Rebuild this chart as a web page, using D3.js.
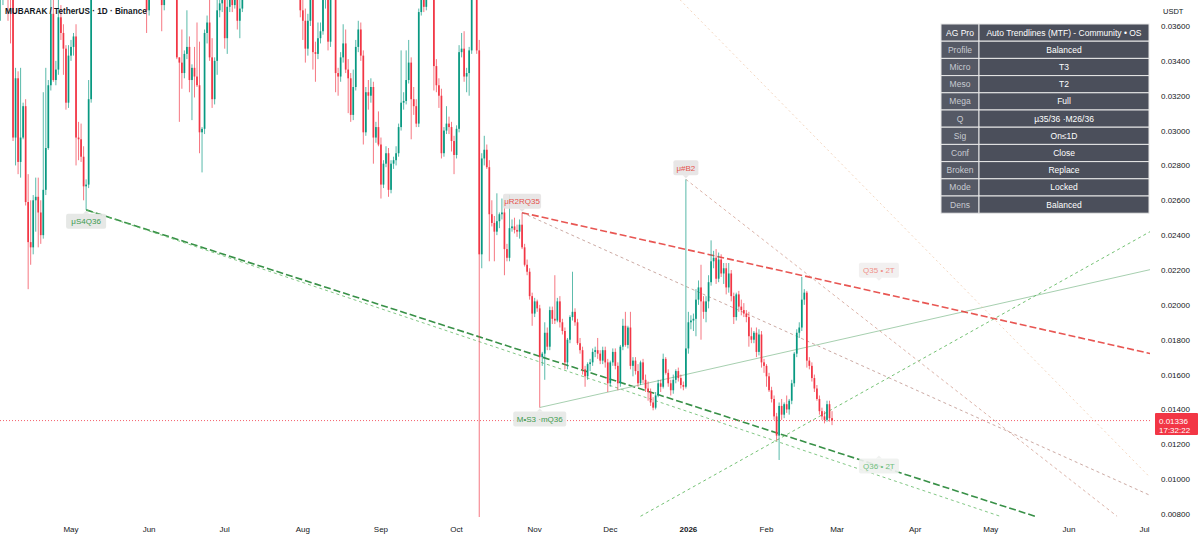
<!DOCTYPE html>
<html><head><meta charset="utf-8">
<script src="https://cdn.jsdelivr.net/npm/d3@7"></script>
<style>body{margin:0;background:#fff;} svg{display:block;font-family:"Liberation Sans",Arial,sans-serif;}</style>
</head><body><svg id="c" width="1199" height="537"></svg>
<script>
// ---------------- DATA ----------------
const symbolTitle = "MUBARAK / TetherUS · 1D · Binance";
const firstDay = "2025-04-03";
// daily candles [open, high, low, close]
const candles = [
[0.0388,0.0400,0.0363,0.0394],[0.0394,0.0408,0.0372,0.0401],[0.0401,0.0412,0.0381,0.0405],[0.0405,0.0418,0.0363,0.0398],
[0.0398,0.0410,0.0350,0.0392],[0.0392,0.0396,0.0294,0.0296],[0.0296,0.0336,0.0280,0.0330],[0.0330,0.0334,0.0275,0.0282],
[0.0282,0.0336,0.0273,0.0296],[0.0296,0.0316,0.0295,0.0314],[0.0314,0.0318,0.0257,0.0259],[0.0259,0.0275,0.0209,0.0236],
[0.0236,0.0260,0.0223,0.0233],[0.0233,0.0263,0.0229,0.0260],[0.0260,0.0273,0.0242,0.0262],[0.0262,0.0273,0.0233,0.0253],
[0.0253,0.0260,0.0235,0.0240],[0.0240,0.0322,0.0238,0.0266],[0.0266,0.0336,0.0263,0.0290],[0.0290,0.0329,0.0289,0.0326],
[0.0326,0.0381,0.0323,0.0367],[0.0367,0.0378,0.0328,0.0329],[0.0329,0.0340,0.0326,0.0335],[0.0335,0.0375,0.0332,0.0365],
[0.0365,0.0372,0.0352,0.0356],[0.0356,0.0361,0.0332,0.0347],[0.0347,0.0349,0.0312,0.0316],[0.0316,0.0349,0.0313,0.0343],
[0.0343,0.0352,0.0340,0.0348],[0.0348,0.0356,0.0343,0.0354],[0.0354,0.0361,0.0280,0.0296],[0.0296,0.0305,0.0283,0.0295],
[0.0295,0.0304,0.0282,0.0285],[0.0285,0.0291,0.0260,0.0268],[0.0268,0.0272,0.02545,0.0269],[0.0269,0.0329,0.0267,0.0318],
[0.0318,0.0392,0.0316,0.0385],
[0.0385,0.0410,0.0379,0.0402],[0.0402,0.0425,0.0395,0.0418],[0.0418,0.0431,0.0405,0.0410],[0.0410,0.0428,0.0402,0.0423],
[0.0423,0.0446,0.0415,0.0439],[0.0439,0.0452,0.0425,0.0430],[0.0430,0.0441,0.0418,0.0436],[0.0436,0.0462,0.0431,0.0455],
[0.0455,0.0470,0.0440,0.0446],[0.0446,0.0458,0.0430,0.0437],[0.0437,0.0449,0.0422,0.0444],[0.0444,0.0451,0.0428,0.0433],
[0.0433,0.0440,0.0415,0.0421],[0.0421,0.0436,0.0414,0.0430],[0.0430,0.0438,0.0409,0.0413],[0.0413,0.0425,0.0400,0.0419],
[0.0419,0.0427,0.0398,0.0404],[0.0404,0.0416,0.0392,0.0410],[0.0410,0.0414,0.0388,0.0395],[0.0395,0.0408,0.0386,0.0401],
[0.0401,0.0406,0.0380,0.0386],[0.0386,0.0390,0.0356,0.0369],[0.0369,0.0392,0.0366,0.0388],[0.0388,0.0401,0.0380,0.0396],
[0.0396,0.0410,0.0386,0.0392],[0.0392,0.0405,0.0383,0.0399],[0.0399,0.0404,0.0378,0.0384],[0.0384,0.0390,0.0357,0.0372],
[0.0372,0.0395,0.0369,0.0390],[0.0390,0.0412,0.0385,0.0405],[0.0405,0.0418,0.0397,0.0401],[0.0401,0.0413,0.0392,0.0408],
[0.0408,0.0415,0.0390,0.0395],[0.0395,0.0399,0.0341,0.0342],[0.0342,0.0342,0.0305,0.0339],[0.0339,0.0358,0.0324,0.0333],
[0.0333,0.0346,0.0330,0.0344],[0.0344,0.0369,0.0341,0.0348],[0.0348,0.0354,0.0322,0.0329],[0.0329,0.0338,0.0306,0.0336],
[0.0336,0.0348,0.0319,0.0331],[0.0331,0.0362,0.0325,0.0326],[0.0326,0.0351,0.0287,0.0299],[0.0299,0.0302,0.0276,0.0301],
[0.0301,0.0358,0.0298,0.0356],[0.0356,0.0366,0.0350,0.0362],[0.0362,0.0378,0.0340,0.0342],[0.0342,0.0353,0.0313,0.0318],
[0.0318,0.0342,0.0315,0.0340],[0.0340,0.0382,0.0332,0.0369],[0.0369,0.0378,0.0365,0.0373],[0.0373,0.0392,0.0368,0.0388],
[0.0388,0.0395,0.0347,0.0353],[0.0353,0.0375,0.0344,0.0371],[0.0371,0.0390,0.0368,0.0386],[0.0386,0.0391,0.0368,0.0372],
[0.0372,0.0395,0.0370,0.0390],[0.0390,0.0396,0.0358,0.0363],[0.0363,0.0380,0.0353,0.0370],[0.0370,0.0392,0.0368,0.0388],
[0.0388,0.0405,0.0382,0.0399],[0.0399,0.0418,0.0394,0.0412],[0.0412,0.0425,0.0400,0.0406],[0.0406,0.0431,0.0402,0.0427],
[0.0427,0.0440,0.0415,0.0420],[0.0420,0.0433,0.0408,0.0428],[0.0428,0.0445,0.0421,0.0439],[0.0439,0.0451,0.0426,0.0431],
[0.0431,0.0442,0.0419,0.0424],[0.0424,0.0436,0.0413,0.0432],[0.0432,0.0447,0.0425,0.0441],[0.0441,0.0449,0.0427,0.0433],
[0.0433,0.0438,0.0416,0.0420],[0.0420,0.0431,0.0410,0.0427],[0.0427,0.0434,0.0411,0.0415],[0.0415,0.0426,0.0404,0.0421],
[0.0421,0.0429,0.0405,0.0409],[0.0409,0.0418,0.0397,0.0413],[0.0413,0.0420,0.0398,0.0402],[0.0402,0.0411,0.0390,0.0407],
[0.0407,0.0412,0.0389,0.0394],[0.0394,0.0403,0.0384,0.0390],
[0.0390,0.0395,0.0365,0.0369],[0.0369,0.0375,0.0352,0.0363],[0.0363,0.0370,0.0339,0.0347],[0.0347,0.0367,0.0343,0.0363],
[0.0363,0.0385,0.0360,0.0380],[0.0380,0.0384,0.0335,0.0345],[0.0345,0.0351,0.0328,0.0344],[0.0344,0.0362,0.0341,0.0353],
[0.0353,0.0362,0.0350,0.0357],[0.0357,0.0385,0.0355,0.0378],[0.0378,0.0392,0.0370,0.0386],[0.0386,0.0390,0.0346,0.0351],
[0.0351,0.0388,0.0348,0.0382],[0.0382,0.0396,0.0376,0.0390],[0.0390,0.0394,0.0322,0.0333],[0.0333,0.0336,0.0320,0.0331],
[0.0331,0.0345,0.0328,0.0342],[0.0342,0.0361,0.0339,0.0350],[0.0350,0.0358,0.0333,0.0335],[0.0335,0.0341,0.0310,0.0330],
[0.0330,0.0333,0.0305,0.0309],[0.0309,0.0335,0.0306,0.0325],[0.0325,0.0352,0.0323,0.0348],[0.0348,0.0363,0.0345,0.0358],
[0.0358,0.0362,0.0340,0.0343],[0.0343,0.0346,0.0292,0.0299],[0.0299,0.0325,0.0297,0.0322],[0.0322,0.0329,0.0312,0.0320],
[0.0320,0.0330,0.0316,0.0325],[0.0325,0.0328,0.0281,0.0296],[0.0296,0.0305,0.0293,0.0302],[0.0302,0.0311,0.0291,0.0292],
[0.0292,0.0296,0.0261,0.0269],[0.0269,0.0283,0.0267,0.0281],[0.0281,0.0291,0.0279,0.0287],[0.0287,0.0290,0.0262,0.0266],
[0.0266,0.0283,0.0264,0.0281],[0.0281,0.0285,0.0278,0.0283],[0.0283,0.0291,0.0280,0.0287],[0.0287,0.0304,0.0285,0.0302],
[0.0302,0.0346,0.0300,0.0316],[0.0316,0.0322,0.0312,0.0317],[0.0317,0.0346,0.0315,0.0329],[0.0329,0.0352,0.0327,0.0339],
[0.0339,0.0342,0.0295,0.0318],[0.0318,0.0325,0.0309,0.0314],[0.0314,0.0318,0.0302,0.0304],[0.0304,0.0370,0.0302,0.0368],
[0.0368,0.0385,0.0366,0.0380],[0.0380,0.0386,0.0368,0.0371],[0.0371,0.0392,0.0369,0.0388],[0.0388,0.0402,0.0382,0.0396],
[0.0396,0.0405,0.0387,0.0392],[0.0392,0.0396,0.0323,0.0337],[0.0337,0.0341,0.0322,0.0326],[0.0326,0.0330,0.0313,0.0320],
[0.0320,0.0324,0.0284,0.0287],[0.0287,0.0302,0.0285,0.0300],[0.0300,0.0314,0.0298,0.0304],[0.0304,0.0308,0.0298,0.0302],
[0.0302,0.0305,0.0288,0.0294],[0.0294,0.0297,0.0275,0.0286],[0.0286,0.0303,0.0284,0.0301],[0.0301,0.0349,0.0299,0.0345],
[0.0345,0.0356,0.0342,0.0347],[0.0347,0.0357,0.0328,0.0331],[0.0331,0.0336,0.0322,0.0333],[0.0333,0.0348,0.0320,0.0346],
[0.0346,0.0385,0.0344,0.0380],[0.0380,0.0398,0.0376,0.0392],[0.0392,0.0396,0.0344,0.0346],[0.0346,0.0352,0.0070,0.0229],
[0.0229,0.0287,0.0221,0.0284],[0.0284,0.0297,0.0280,0.0289],[0.0289,0.0292,0.0278,0.0279],[0.0279,0.0283,0.0225,0.0252],
[0.0252,0.0260,0.0245,0.0247],[0.0247,0.0251,0.0225,0.0242],[0.0242,0.0264,0.0240,0.0248],[0.0248,0.0253,0.0244,0.0252],
[0.0252,0.0261,0.0249,0.0253],[0.0253,0.0259,0.0217,0.0232],[0.0232,0.0235,0.0225,0.0227],[0.0227,0.0263,0.0225,0.0244],
[0.0244,0.0249,0.0242,0.0245],[0.0245,0.0250,0.0241,0.0243],[0.0243,0.0246,0.0239,0.0242],[0.0242,0.0249,0.0238,0.0246],
[0.0246,0.02529,0.0232,0.0233],[0.0233,0.0235,0.0222,0.0223],[0.0223,0.0226,0.0217,0.0219],[0.0219,0.0221,0.0203,0.0205],
[0.0205,0.0207,0.0188,0.0195],[0.0195,0.0204,0.0193,0.0202],[0.0202,0.0203,0.0196,0.0198],[0.0198,0.0200,0.01411,0.0170],
[0.0170,0.0173,0.0165,0.0172],[0.0172,0.0190,0.0157,0.0184],[0.0184,0.0187,0.0174,0.0176],[0.0176,0.0199,0.0174,0.0197],
[0.0197,0.0199,0.0189,0.0192],[0.0192,0.0217,0.0189,0.0191],[0.0191,0.0204,0.0190,0.0202],[0.0202,0.0205,0.0187,0.0190],
[0.0190,0.0192,0.0183,0.0185],[0.0185,0.0187,0.0163,0.0167],[0.0167,0.0181,0.0163,0.0180],[0.0180,0.0194,0.0178,0.0193],
[0.0193,0.0219,0.0191,0.0196],[0.0196,0.0198,0.0188,0.0190],[0.0190,0.0192,0.0177,0.0178],[0.0178,0.0181,0.0172,0.0174],
[0.0174,0.0176,0.0160,0.0163],[0.0163,0.0165,0.0153,0.0159],[0.0159,0.0167,0.0157,0.0166],[0.0166,0.0169,0.0162,0.0167],
[0.0167,0.0175,0.0165,0.0173],[0.0173,0.0176,0.0170,0.0174],[0.0174,0.0181,0.0169,0.0172],[0.0172,0.0174,0.0166,0.0168],
[0.0168,0.0176,0.0166,0.0174],[0.0174,0.0176,0.0164,0.0167],[0.0167,0.0169,0.0150,0.0155],[0.0155,0.0168,0.0153,0.0167],
[0.0167,0.0175,0.0165,0.0173],[0.0173,0.0175,0.0163,0.0165],[0.0165,0.0167,0.0151,0.0155],[0.0155,0.0177,0.0153,0.0176],
[0.0176,0.0192,0.0174,0.0188],[0.0188,0.0196,0.0176,0.0177],[0.0177,0.0188,0.0175,0.0187],[0.0187,0.0196,0.0163,0.0165],
[0.0165,0.0170,0.0159,0.0168],[0.0168,0.0170,0.0160,0.0162],[0.0162,0.0166,0.0153,0.0155],[0.0155,0.0168,0.0154,0.0167],
[0.0167,0.0169,0.0155,0.0157],[0.0157,0.0160,0.0150,0.0152],[0.0152,0.0156,0.0145,0.0150],[0.0150,0.0152,0.0142,0.0144],
[0.0144,0.0147,0.01395,0.0141],[0.0141,0.0150,0.0140,0.0148],[0.0148,0.0157,0.0147,0.0155],[0.0155,0.0157,0.0150,0.0153],
[0.0153,0.0172,0.0152,0.0169],[0.0169,0.0170,0.0160,0.0161],[0.0161,0.0163,0.0153,0.0155],[0.0155,0.0157,0.0148,0.0151],
[0.0151,0.0160,0.0149,0.0157],[0.0157,0.0163,0.0155,0.0162],[0.0162,0.0164,0.0156,0.0158],[0.0158,0.0160,0.0152,0.0154],
[0.0154,0.0156,0.0151,0.0153],[0.0153,0.0272,0.0152,0.0175],
[0.0175,0.0196,0.0172,0.0190],[0.0190,0.0194,0.0186,0.0191],[0.0191,0.0195,0.0185,0.0192],[0.0192,0.0209,0.0182,0.0203],
[0.0203,0.0214,0.0200,0.0210],[0.0210,0.0223,0.0180,0.0202],[0.0202,0.0205,0.0192,0.0196],[0.0196,0.0205,0.0190,0.0202],
[0.0202,0.0217,0.0198,0.0213],[0.0213,0.0237,0.0211,0.0225],[0.0225,0.0231,0.0221,0.0227],[0.0227,0.0232,0.0212,0.0215],
[0.0215,0.0230,0.0213,0.0226],[0.0226,0.0229,0.0216,0.0218],[0.0218,0.0224,0.0212,0.0221],[0.0221,0.0224,0.0206,0.0210],
[0.0210,0.0224,0.0207,0.0218],[0.0218,0.0220,0.0202,0.0205],[0.0205,0.0207,0.0189,0.0193],[0.0193,0.0207,0.0191,0.0206],
[0.0206,0.0208,0.0196,0.0199],[0.0199,0.0203,0.0194,0.0197],[0.0197,0.0201,0.0193,0.0195],[0.0195,0.0197,0.0190,0.0193],
[0.0193,0.0196,0.0176,0.0182],[0.0182,0.0187,0.0178,0.0180],[0.0180,0.0185,0.0178,0.0184],[0.0184,0.0187,0.0170,0.0173],
[0.0173,0.0186,0.0171,0.0183],[0.0183,0.0185,0.0164,0.0167],[0.0167,0.0169,0.0161,0.0165],[0.0165,0.0166,0.0153,0.0159],
[0.0159,0.0161,0.0150,0.0151],[0.0151,0.0153,0.0144,0.0146],[0.0146,0.0148,0.0134,0.0136],[0.0136,0.0138,0.0122,0.0125],
[0.0125,0.0144,0.0111,0.0142],[0.0142,0.0146,0.0134,0.0137],[0.0137,0.0144,0.0135,0.0143],[0.0143,0.0148,0.0138,0.0140],
[0.0140,0.0146,0.0137,0.0145],[0.0145,0.0157,0.0143,0.0155],[0.0155,0.0173,0.0153,0.0172],[0.0172,0.0186,0.0170,0.0184],
[0.0184,0.0190,0.0181,0.0187],[0.0187,0.0216,0.0185,0.0203],[0.0203,0.0209,0.0200,0.0207],[0.0207,0.0208,0.0164,0.0168],
[0.0168,0.0170,0.0163,0.0165],[0.0165,0.0167,0.0156,0.0158],[0.0158,0.0160,0.0150,0.0152],[0.0152,0.0154,0.0145,0.0146],
[0.0146,0.0148,0.0137,0.0139],[0.0139,0.0141,0.0134,0.0136],[0.0136,0.0139,0.0132,0.0134],[0.0134,0.0145,0.0133,0.0143],
[0.0143,0.0145,0.0133,0.0135],[0.0135,0.0139,0.0131,0.01336]
];
const priceTicks = [0.036,0.034,0.032,0.030,0.028,0.026,0.024,0.022,0.020,0.018,0.016,0.014,0.012,0.010,0.008];
const priceUnit = "USDT";
const lastPrice = 0.01336;
const countdown = "17:32:22";
const monthTicks = ["2025-05-01","2025-06-01","2025-07-01","2025-08-01","2025-09-01","2025-10-01","2025-11-01","2025-12-01","2026-01-01","2026-02-01","2026-03-01","2026-04-01","2026-05-01","2026-06-01","2026-07-01"];
// trendlines: [dayIndex, price] -> [dayIndex, price]
const trendStart = [[34,0.02545],[34,0.02545],[214,0.01411],[254,0.00787],[207,0.02529],[207,0.02529],[272,0.0272],[269.7,0.0375]];
const trendEnd   = [[410.5,0.00787],[396.7,0.00787],[456.2,0.02202],[456.2,0.0242],[456.2,0.01721],[456.2,0.00907],[443.1,0.00787],[456.2,0.0101]];
// pivot tags [dayIndex, price]
const tagAnchors = [[34,0.02545],[207,0.02529],[272,0.0272],[214,0.01411],[348.6,0.02133],[348.6,0.01142]];
const tagTexts = ["μS4Q36","μR2RQ35","μ#B2","M•S3 ·mQ36","Q35 • 2T","Q36 • 2T"];
const tableKeys = ["AG Pro","Profile","Micro","Meso","Mega","Q","Sig","Conf","Broken","Mode","Dens"];
const tableVals = ["Auto Trendlines (MTF) - Community • OS","Balanced","T3","T2","Full","µ35/36 ·M26/36","On≤1D","Close","Replace","Locked","Balanced"];

// ---------------- DRAW ----------------
const svg = d3.select("#c");
const plotR = 1150, plotB = 517;
const t0 = d3.utcParse("%Y-%m-%d")(firstDay);
const dayPx = 2.52;
const x = d3.scaleUtc().domain([t0, d3.utcDay.offset(t0, 500)]).range([0.44, 0.44 + 500*dayPx]);
const y = d3.scaleLinear().domain([0.008, 0.036]).range([514, 26]);
const xi = i => x(new Date(t0.getTime() + i*86400000));

svg.append("rect").attr("width",1199).attr("height",537).attr("fill","#fff");
svg.append("defs").append("clipPath").attr("id","clip").append("rect").attr("x",0).attr("y",0).attr("width",plotR).attr("height",plotB);
const plot = svg.append("g").attr("clip-path","url(#clip)");

const GREEN = "#089981", RED = "#f23645";

// trendline styles
const tStyle = [
  {c:"#2e8b3e", w:1.6, d:"7,3", o:0.95},
  {c:"#66bb6a", w:0.9, d:"3,3", o:0.9},
  {c:"#9cc9a6", w:0.9, d:null, o:1},
  {c:"#5cb85c", w:0.9, d:"3,3", o:0.95},
  {c:"#e53935", w:1.6, d:"7,3", o:0.85},
  {c:"#b07a70", w:0.8, d:"3,3", o:0.8},
  {c:"#c98a7a", w:0.8, d:"3,3", o:0.8},
  {c:"#f0c8a8", w:0.8, d:"2,3", o:0.9}
];
trendStart.forEach((s,k)=>{
  const e = trendEnd[k], st = tStyle[k];
  plot.append("line").attr("x1",xi(s[0])).attr("y1",y(s[1])).attr("x2",xi(e[0])).attr("y2",y(e[1]))
    .attr("stroke",st.c).attr("stroke-width",st.w).attr("stroke-dasharray",st.d).attr("opacity",st.o);
});

// candles
const cg = plot.append("g");
candles.forEach((d,i)=>{
  const [o,h,l,c] = d; const cx = xi(i); const col = c>=o?GREEN:RED;
  cg.append("line").attr("x1",cx).attr("x2",cx).attr("y1",y(h)).attr("y2",y(l)).attr("stroke",col).attr("stroke-width",0.9).attr("opacity",0.75);
  const yt = y(Math.max(o,c)), yb = y(Math.min(o,c));
  cg.append("rect").attr("x",cx-0.85).attr("width",1.7).attr("y",yt).attr("height",Math.max(1,yb-yt)).attr("fill",col);
});

// last price line
plot.append("line").attr("x1",0).attr("x2",plotR).attr("y1",y(lastPrice)).attr("y2",y(lastPrice))
  .attr("stroke",RED).attr("stroke-width",0.8).attr("stroke-dasharray","1,2");

// tags
const tagStyle = [
  {below:true, fg:"#3d9b4f", bg:"#e3e6e3", w:40},
  {below:false, fg:"#e5534b", bg:"#e6e3e3", w:38},
  {below:false, fg:"#e5534b", bg:"#e6e3e3", w:25},
  {below:true, fg:"#3d9b4f", bg:"#e6e8e6", w:53},
  {below:false, fg:"#f0908a", bg:"#f1eeee", w:40},
  {below:true, fg:"#6fbf7d", bg:"#eef1ee", w:40}
];
tagAnchors.forEach((a,k)=>{
  const st = tagStyle[k]; const ax = xi(a[0]), ay = y(a[1]);
  const h = 15, by = st.below ? ay+4 : ay-4-h;
  const g = plot.append("g");
  g.append("rect").attr("x",ax-st.w/2).attr("y",by).attr("width",st.w).attr("height",h).attr("rx",2).attr("fill",st.bg).attr("opacity",0.9);
  const py = st.below ? by : by+h;
  g.append("path").attr("d",`M${ax-3},${py}L${ax},${st.below?py-3:py+3}L${ax+3},${py}Z`).attr("fill",st.bg).attr("opacity",0.9);
  g.append("text").attr("x",ax).attr("y",by+10.5).attr("text-anchor","middle").attr("font-size",8).attr("fill",st.fg).text(tagTexts[k]);
});

// title
svg.append("text").attr("x",5).attr("y",14).attr("font-size",8.2).attr("font-weight",600).attr("fill","#131722").text(symbolTitle);

// price axis
svg.append("text").attr("x",1163).attr("y",14).attr("font-size",7.5).attr("fill","#131722").text(priceUnit);
const fmt = d3.format(".5f");
priceTicks.forEach(v=>{
  svg.append("text").attr("x",1161).attr("y",y(v)+3).attr("font-size",8).attr("fill","#131722").text(fmt(v));
});
svg.append("rect").attr("x",1155).attr("y",y(lastPrice)-7.5).attr("width",43).attr("height",22).attr("rx",1).attr("fill",RED);
svg.append("text").attr("x",1159).attr("y",y(lastPrice)+3).attr("font-size",8).attr("fill","#fff").text(fmt(lastPrice));
svg.append("text").attr("x",1159).attr("y",y(lastPrice)+12).attr("font-size",8).attr("fill","#fff").text(countdown);

// time axis
const pd = d3.utcParse("%Y-%m-%d");
monthTicks.forEach(s=>{
  const d = pd(s);
  const lbl = d.getUTCMonth()===0 ? d3.utcFormat("%Y")(d) : d3.utcFormat("%b")(d);
  svg.append("text").attr("x",x(d)).attr("y",532).attr("text-anchor","middle").attr("font-size",8)
    .attr("font-weight", d.getUTCMonth()===0?600:400).attr("fill","#131722").text(lbl);
});

// info table
const tx0 = 941, tcol = 979, tx1 = 1149, ty0 = 24, rh = 17.2;
const tg = svg.append("g");
tableKeys.forEach((k,r)=>{
  const yy = ty0 + r*rh;
  tg.append("rect").attr("x",tx0).attr("y",yy).attr("width",tcol-tx0).attr("height",rh).attr("fill","#555965").attr("stroke","#e8e8e8").attr("stroke-width",1);
  tg.append("rect").attr("x",tcol).attr("y",yy).attr("width",tx1-tcol).attr("height",rh).attr("fill","#4b4f5b").attr("stroke","#e8e8e8").attr("stroke-width",1);
  tg.append("text").attr("x",(tx0+tcol)/2).attr("y",yy+rh/2+3).attr("text-anchor","middle").attr("font-size",8.5).attr("fill", r===0?"#ffffff":"#c8cbd2").text(k);
  tg.append("text").attr("x",(tcol+tx1)/2).attr("y",yy+rh/2+3).attr("text-anchor","middle").attr("font-size",8.5).attr("fill","#ffffff").text(tableVals[r]);
});
</script></body></html>
